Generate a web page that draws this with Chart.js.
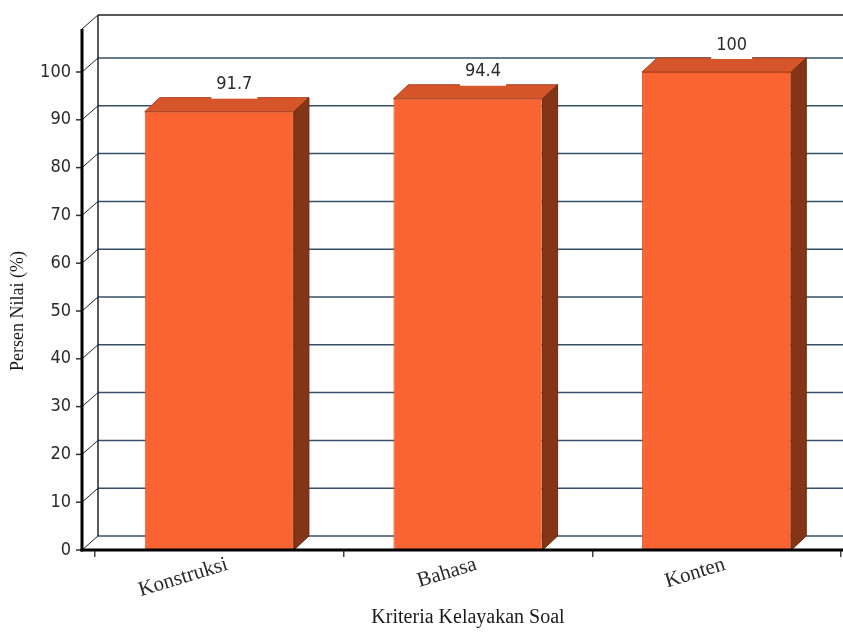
<!DOCTYPE html>
<html>
<head>
<meta charset="utf-8">
<script src="https://cdn.jsdelivr.net/npm/chart.js@4/dist/chart.umd.min.js"></script>
<style>
    body { margin: 0; background: #fff; }
    canvas { display: block; }
</style>
</head>
<body>
<canvas id="chart" width="843" height="633"></canvas>
<script>
const categories = ["Konstruksi", "Bahasa", "Konten"];
const nilai = [91.7, 94.4, 100];
const yMin = 0;
const yMax = 100;
const yStep = 10;
const yAxisTop = 109; // front axis goes a bit above the last tick
const xTitle = "Kriteria Kelayakan Soal";
const yTitle = "Persen Nilai (%)";

// 3d offsets
const WALL_DX = 16, WALL_DY = -14;
const BAR_DX = 15, BAR_DY = -14;
const FRONT_X = 82;

const numFont = "'Liberation Sans Narrow', 'DejaVu Sans Condensed', 'Roboto Condensed', sans-serif";
const serifFont = "'Liberation Serif', 'DejaVu Serif', serif";

function yTickValues() {
    var vals = [];
    for (let v = yMin; v <= yMax; v += yStep) vals.push(v);
    return vals;
}

function line(ctx, x1, y1, x2, y2) {
    ctx.beginPath();
    ctx.moveTo(x1, y1);
    ctx.lineTo(x2, y2);
    ctx.stroke();
}

function poly(ctx, pts, fill, stroke) {
    ctx.beginPath();
    ctx.moveTo(pts[0][0], pts[0][1]);
    for (let i = 1; i < pts.length; i++) ctx.lineTo(pts[i][0], pts[i][1]);
    ctx.closePath();
    ctx.fillStyle = fill;
    ctx.fill();
    ctx.strokeStyle = stroke;
    ctx.lineWidth = 1;
    ctx.stroke();
}

const box3d = {
    id: "box3d",
    beforeDatasetsDraw(chart) {
        const ctx = chart.ctx;
        const ys = chart.scales.y;
        const W = chart.width;
        const backX = FRONT_X + WALL_DX;
        const yTop = ys.getPixelForValue(yAxisTop);
        const yBase = ys.getPixelForValue(yMin);
        ctx.save();
        // back wall gridlines
        ctx.strokeStyle = "#34506a";
        ctx.lineWidth = 1.5;
        yTickValues().forEach(function (v) {
            const y = ys.getPixelForValue(v);
            line(ctx, backX, y + WALL_DY, W, y + WALL_DY);
        });
        // wall border
        ctx.strokeStyle = "#222";
        ctx.lineWidth = 1.5;
        line(ctx, backX, yTop + WALL_DY, W, yTop + WALL_DY);
        line(ctx, backX, yTop + WALL_DY, backX, yBase + WALL_DY);
        // side wall diagonals
        ctx.lineWidth = 1;
        yTickValues().concat([yAxisTop]).forEach(function (v) {
            const y = ys.getPixelForValue(v);
            line(ctx, FRONT_X, y, backX, y + WALL_DY);
        });
        ctx.restore();
    },
    afterDatasetsDraw(chart) {
        const ctx = chart.ctx;
        const meta = chart.getDatasetMeta(0);
        ctx.save();
        meta.data.forEach(function (bar, i) {
            const l = bar.x - bar.width / 2;
            const r = bar.x + bar.width / 2;
            const t = bar.y;
            const b = bar.base;
            poly(ctx, [[l, t], [l + BAR_DX, t + BAR_DY], [r + BAR_DX, t + BAR_DY], [r, t]], "#d6552a", "#a8401c");
            poly(ctx, [[r, t], [r + BAR_DX, t + BAR_DY], [r + BAR_DX, b + BAR_DY], [r, b]], "#843517", "#6a2a10");

            // value label with white box
            const txt = String(nilai[i]);
            ctx.font = "18px " + numFont;
            const tw = ctx.measureText(txt).width;
            const cx = bar.x + BAR_DX;
            const by = t + BAR_DY;
            ctx.fillStyle = "#fff";
            ctx.fillRect(cx - tw / 2 - 5, by - 24, tw + 10, 25);
            ctx.fillStyle = "#2a2a2a";
            ctx.textAlign = "center";
            ctx.textBaseline = "bottom";
            ctx.fillText(txt, cx, by - 4);
        });
        ctx.restore();
    },
    afterDraw(chart) {
        const ctx = chart.ctx;
        const ys = chart.scales.y;
        const yTop = ys.getPixelForValue(yAxisTop);
        const yBase = ys.getPixelForValue(yMin);
        ctx.save();
        ctx.strokeStyle = "#333";
        ctx.lineWidth = 1.5;
        yTickValues().forEach(function (v) {
            const y = ys.getPixelForValue(v);
            line(ctx, FRONT_X - 6, y, FRONT_X, y);
        });
        ctx.strokeStyle = "#000";
        ctx.lineWidth = 3;
        line(ctx, FRONT_X, yTop, FRONT_X, yBase + 1.5);
        line(ctx, FRONT_X - 1.5, yBase, chart.width, yBase);
        ctx.restore();
    },
};

const cfg = {
    type: "bar",
    data: {
        labels: categories,
        datasets: [
            {
                label: yTitle,
                data: nilai,
                backgroundColor: "#fa6332",
                borderColor: "#cf5122",
                borderWidth: 1,
                categoryPercentage: 1,
                barPercentage: 0.6,
            },
        ],
    },
    options: {
        responsive: false,
        animation: false,
        devicePixelRatio: 1,
        layout: { padding: { left: 7, top: 72, right: 2, bottom: 2 } },
        plugins: {
            legend: { display: false },
            tooltip: { enabled: false },
        },
        scales: {
            x: {
                grid: {
                    display: true,
                    drawOnChartArea: false,
                    offset: true,
                    tickLength: 7,
                    color: "#444",
                    lineWidth: 1.5,
                },
                border: { display: false },
                ticks: {
                    minRotation: 17,
                    maxRotation: 17,
                    padding: -5,
                    labelOffset: 8,
                    color: "#2a2a2a",
                    font: { family: serifFont, size: 21 },
                },
                title: {
                    display: true,
                    text: xTitle,
                    color: "#1a1a1a",
                    padding: { top: 0, bottom: 1 },
                    font: { family: serifFont, size: 20 },
                },
                afterFit(scale) {
                    scale.height = 633 - 2 - 550;
                },
            },
            y: {
                min: yMin,
                max: yMax,
                grid: { display: false, drawTicks: false },
                border: { display: false },
                ticks: {
                    stepSize: yStep,
                    padding: 24,
                    color: "#2a2a2a",
                    font: { family: numFont, size: 18 },
                },
                title: {
                    display: true,
                    text: yTitle,
                    color: "#1a1a1a",
                    padding: 0,
                    font: { family: serifFont, size: 18 },
                },
                afterFit(scale) {
                    scale.width = 95 - 7;
                },
            },
        },
    },
    plugins: [box3d],
};

const chart = new Chart(document.getElementById("chart"), cfg);
</script>
</body>
</html>
